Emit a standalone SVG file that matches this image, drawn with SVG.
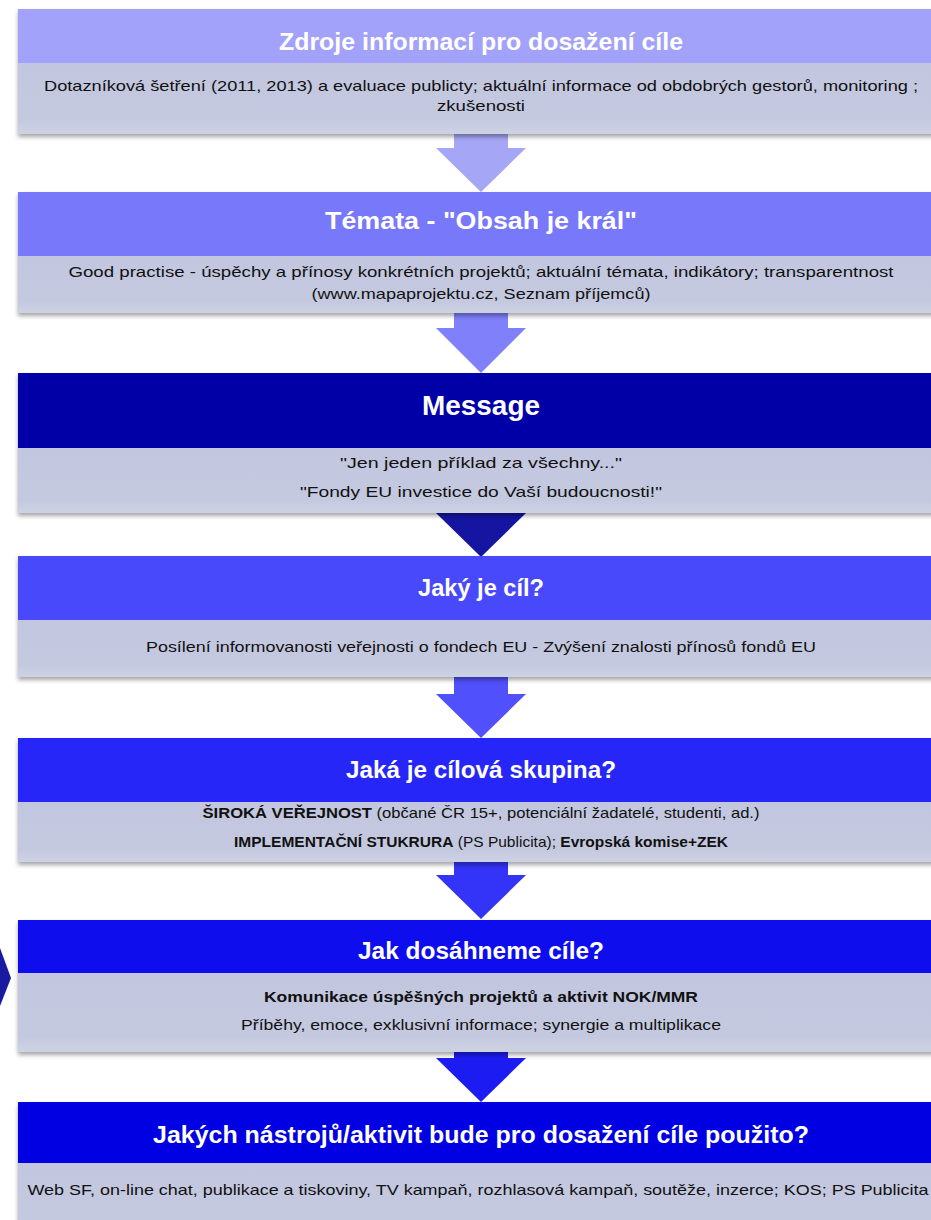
<svg xmlns="http://www.w3.org/2000/svg" width="931" height="1220" viewBox="0 0 931 1220">
<defs>
<filter id="sh" x="-5%" y="-10%" width="110%" height="130%">
<feDropShadow dx="0" dy="3" stdDeviation="2" flood-color="#000" flood-opacity="0.35"/>
</filter>
<linearGradient id="bodyg" x1="0" y1="0" x2="0" y2="1">
<stop offset="0" stop-color="#c2c7df"/>
<stop offset="0.8" stop-color="#c4c9e0"/>
<stop offset="1" stop-color="#cdd2e3"/>
</linearGradient>
</defs>
<style>
.hd{font-family:"Liberation Sans Narrow","Liberation Sans",Arial,sans-serif;font-weight:bold;font-size:24px;fill:#ffffff;text-anchor:middle}
.bd{font-family:"Liberation Sans Narrow","Liberation Sans",Arial,sans-serif;font-size:14.5px;fill:#111111;text-anchor:middle}
.b{font-weight:bold}
.body{fill:url(#bodyg)}
</style>
<rect width="931" height="1220" fill="#ffffff"/>

<g id="connectors">
<polygon points="454,133 508,133 508,148 526,148 481,192 436,148 454,148" fill="#a6a6f6"/>
<polygon points="454,313 508,313 508,328 526,328 481,373 436,328 454,328" fill="#8080fb"/>
<polygon points="436,513 526,513 481,557" fill="#1515a2"/>
<polygon points="454,677 508,677 508,694 526,694 481,738 436,694 454,694" fill="#5050fc"/>
<polygon points="454,862 508,862 508,875 526,875 481,919 436,875 454,875" fill="#3434f8"/>
<polygon points="454,1052 508,1052 508,1058 526,1058 481,1102 436,1058 454,1058" fill="#1c1cf2"/>
<polygon points="0,948 11,978 0,1006" fill="#1a1aa0"/>
</g>

<g id="n1" filter="url(#sh)">
<rect x="18" y="9" width="930" height="54" fill="#a2a2fa"/>
<rect x="18" y="63" width="930" height="71" class="body"/>
</g>
<text class="hd" x="481" y="50" textLength="404" lengthAdjust="spacingAndGlyphs">Zdroje informací pro dosažení cíle</text>
<text class="bd" x="481" y="91" textLength="874" lengthAdjust="spacingAndGlyphs">Dotazníková šetření (2011, 2013) a evaluace publicty; aktuální informace od obdobrých gestorů, monitoring ;</text>
<text class="bd" x="481" y="111" textLength="88" lengthAdjust="spacingAndGlyphs">zkušenosti</text>

<g id="n2" filter="url(#sh)">
<rect x="18" y="192" width="930" height="64" fill="#7878fb"/>
<rect x="18" y="256" width="930" height="57" class="body"/>
</g>
<text class="hd" x="481" y="229" textLength="312" lengthAdjust="spacingAndGlyphs">Témata - "Obsah je král"</text>
<text class="bd" x="481" y="277" textLength="825" lengthAdjust="spacingAndGlyphs">Good practise - úspěchy a přínosy konkrétních projektů; aktuální  témata, indikátory;  transparentnost</text>
<text class="bd" x="481" y="299" textLength="339" lengthAdjust="spacingAndGlyphs">(www.mapaprojektu.cz, Seznam  příjemců)</text>

<g id="n3" filter="url(#sh)">
<rect x="18" y="373" width="930" height="75" fill="#0505a6"/>
<rect x="18" y="448" width="930" height="65" class="body"/>
</g>
<text class="hd" x="481" y="415" style="font-size:27px" textLength="118" lengthAdjust="spacingAndGlyphs">Message</text>
<text class="bd" x="481" y="468" textLength="282" lengthAdjust="spacingAndGlyphs">"Jen jeden  příklad  za všechny..."</text>
<text class="bd" x="481" y="497" textLength="362" lengthAdjust="spacingAndGlyphs">"Fondy  EU  investice  do  Vaší  budoucnosti!"</text>

<g id="n4" filter="url(#sh)">
<rect x="18" y="556" width="930" height="64" fill="#4a4afc"/>
<rect x="18" y="620" width="930" height="57" class="body"/>
</g>
<text class="hd" x="481" y="596" textLength="126" lengthAdjust="spacingAndGlyphs">Jaký je cíl?</text>
<text class="bd" x="481" y="652" textLength="670" lengthAdjust="spacingAndGlyphs">Posílení informovanosti veřejnosti o fondech EU - Zvýšení znalosti přínosů fondů EU</text>

<g id="n5" filter="url(#sh)">
<rect x="18" y="738" width="930" height="64" fill="#2727f8"/>
<rect x="18" y="802" width="930" height="60" class="body"/>
</g>
<text class="hd" x="481" y="778" textLength="270" lengthAdjust="spacingAndGlyphs">Jaká je cílová skupina?</text>
<text class="bd" x="481" y="818" textLength="557" lengthAdjust="spacingAndGlyphs"><tspan class="b">ŠIROKÁ VEŘEJNOST</tspan> (občané ČR 15+,  potenciální žadatelé, studenti, ad.)</text>
<text class="bd" x="481" y="847" textLength="494" lengthAdjust="spacingAndGlyphs"><tspan class="b">IMPLEMENTAČNÍ  STUKRURA</tspan>  (PS Publicita); <tspan class="b">Evropská komise+ZEK</tspan></text>

<g id="n6" filter="url(#sh)">
<rect x="18" y="920" width="930" height="53" fill="#0a0aee"/>
<rect x="18" y="973" width="930" height="79" class="body"/>
</g>
<text class="hd" x="481" y="959" textLength="246" lengthAdjust="spacingAndGlyphs">Jak dosáhneme cíle?</text>
<text class="bd b" x="481" y="1002" textLength="434" lengthAdjust="spacingAndGlyphs">Komunikace úspěšných projektů a aktivit NOK/MMR</text>
<text class="bd" x="481" y="1030" textLength="480" lengthAdjust="spacingAndGlyphs">Příběhy, emoce, exklusivní informace; synergie a multiplikace</text>

<g id="n7" filter="url(#sh)">
<rect x="18" y="1102" width="930" height="61" fill="#0606e2"/>
<rect x="18" y="1163" width="930" height="70" class="body"/>
</g>
<text class="hd" x="481" y="1143" textLength="656" lengthAdjust="spacingAndGlyphs">Jakých nástrojů/aktivit bude pro dosažení cíle použito?</text>
<text class="bd" x="478" y="1195" textLength="901" lengthAdjust="spacingAndGlyphs">Web SF,  on-line chat, publikace a tiskoviny, TV kampaň, rozhlasová kampaň, soutěže, inzerce; KOS; PS Publicita</text>
</svg>
